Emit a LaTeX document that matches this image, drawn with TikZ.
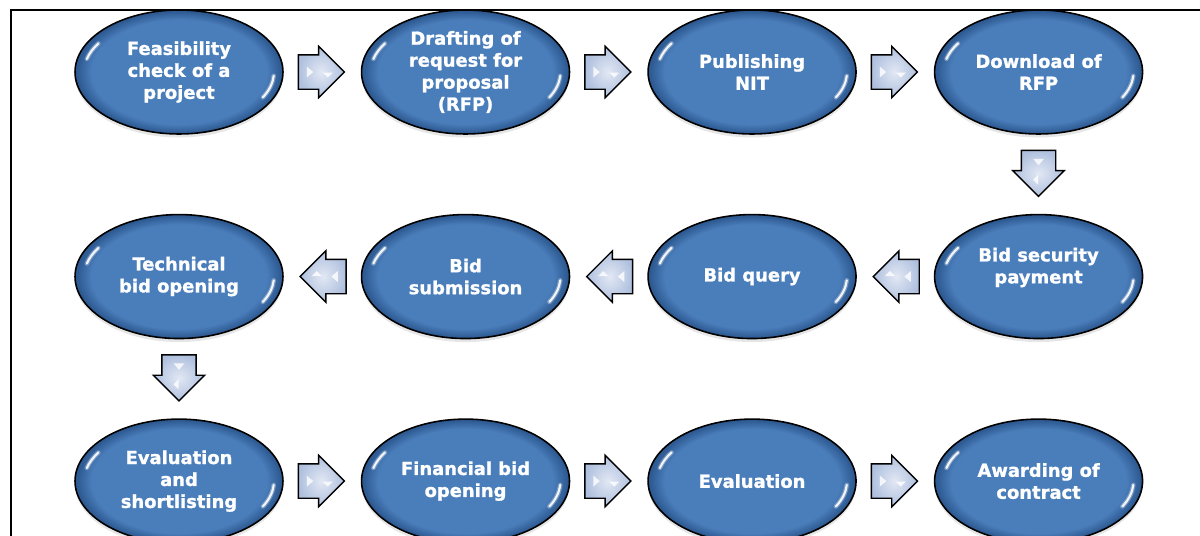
\documentclass[tikz,border=0pt]{standalone}
\usepackage{fontspec}
\setmainfont[BoldFeatures={FakeBold=1.2}]{DejaVu Sans}
\usetikzlibrary{positioning,calc,shapes.geometric,shapes.arrows,shadows}

\definecolor{phasefill}{HTML}{4A7EBB}
\definecolor{phaserim}{HTML}{2E5A92}
\definecolor{golight}{HTML}{E2E8F4}
\definecolor{godark}{HTML}{AFC0DE}

\pgfdeclareradialshading{phaseshade}{\pgfpoint{0bp}{0bp}}{color(0bp)=(phasefill); color(21bp)=(phasefill); color(24.5bp)=(phaserim); color(25bp)=(phaserim); color(50bp)=(phaserim)}

\begin{document}
\begin{tikzpicture}[x=0.02cm,y=-0.02cm,
    phase/.style={ellipse,draw=black,line width=0.9pt,shading=phaseshade,minimum width=4.16cm,minimum height=2.48cm,inner sep=0pt,align=center,text=white,font=\bfseries\fontsize{10.2}{12.5}\selectfont,
        drop shadow={opacity=0.2,shadow xshift=0pt,shadow yshift=-2pt},
        path picture={
            \draw[white,line width=2.6pt,opacity=0.3,line cap=round] (path picture bounding box.center) ++(166:1.9cm and 1.08cm) arc[start angle=166,end angle=148,x radius=1.9cm,y radius=1.08cm];
            \draw[white,line width=1.2pt,opacity=0.9,line cap=round] (path picture bounding box.center) ++(166:1.9cm and 1.08cm) arc[start angle=166,end angle=148,x radius=1.9cm,y radius=1.08cm];
            \draw[white,line width=2.6pt,opacity=0.3,line cap=round] (path picture bounding box.center) ++(-4:1.9cm and 1.08cm) arc[start angle=-4,end angle=-28,x radius=1.9cm,y radius=1.08cm];
            \draw[white,line width=1.2pt,opacity=0.9,line cap=round] (path picture bounding box.center) ++(-4:1.9cm and 1.08cm) arc[start angle=-4,end angle=-28,x radius=1.9cm,y radius=1.08cm];}},
    go/.style={single arrow,draw=black,line width=0.8pt,inner color=golight,outer color=godark,minimum height=0.92cm,inner xsep=0pt,inner ysep=0.33cm,single arrow head extend=0.17cm,
        path picture={
            \fill[white,opacity=0.8] (-0.12cm,0.11cm) -- (0.01cm,0cm) -- (-0.12cm,-0.11cm) -- cycle;
            \fill[white,opacity=0.8] (0.2cm,-0.01cm) -- (0.4cm,-0.01cm) -- (0.3cm,-0.11cm) -- cycle;}},
    back/.style={xshift=-0.19cm}]
    \useasboundingbox (0,0) rectangle (1200,535);
    % frame
    \draw[line width=1.7pt] (11,545) -- (11,10) -- (1210,10);
    % row 1
    \node[phase] (feas) at (179,72) {Feasibility\\check of a\\project};
    \node[phase,right=1.54cm of feas] (draft) {Drafting of\\request for\\proposal\\(RFP)};
    \node[phase,right=1.54cm of draft] (nit) {Publishing\\NIT};
    \node[phase,right=1.54cm of nit] (rfp) {Download of\\RFP};
    % row 2
    \node[phase,below=1.58cm of rfp] (secur) {Bid security\\payment\\\mbox{}};
    \node[phase,left=1.54cm of secur] (query) {Bid query};
    \node[phase,left=1.54cm of query] (submit) {Bid\\submission};
    \node[phase,left=1.54cm of submit] (tech) {Technical\\bid opening};
    % row 3
    \node[phase,below=1.58cm of tech] (short) {Evaluation\\and\\shortlisting};
    \node[phase,right=1.54cm of short] (fin) {Financial bid\\opening};
    \node[phase,right=1.54cm of fin] (eval) {Evaluation};
    \node[phase,right=1.54cm of eval] (award) {Awarding of\\contract};
    %
    \node[go,back] (go1) at ($(feas)!0.5!(draft)$) {};
    \node[go,back] (go2) at ($(draft)!0.5!(nit)$) {};
    \node[go,back] (go3) at ($(nit)!0.5!(rfp)$) {};
    \node[go,rotate=-90,back] (go4) at ($(rfp)!0.5!(secur)$) {};
    \node[go,rotate=180,back] (go5) at ($(secur)!0.5!(query)$) {};
    \node[go,rotate=180,back] (go6) at ($(query)!0.5!(submit)$) {};
    \node[go,rotate=180,back] (go7) at ($(submit)!0.5!(tech)$) {};
    \node[go,rotate=-90,back] (go8) at ($(tech)!0.5!(short)$) {};
    \node[go,back] (go9) at ($(short)!0.5!(fin)$) {};
    \node[go,back] (go10) at ($(fin)!0.5!(eval)$) {};
    \node[go,back] (go11) at ($(eval)!0.5!(award)$) {};
\end{tikzpicture}
\end{document}
